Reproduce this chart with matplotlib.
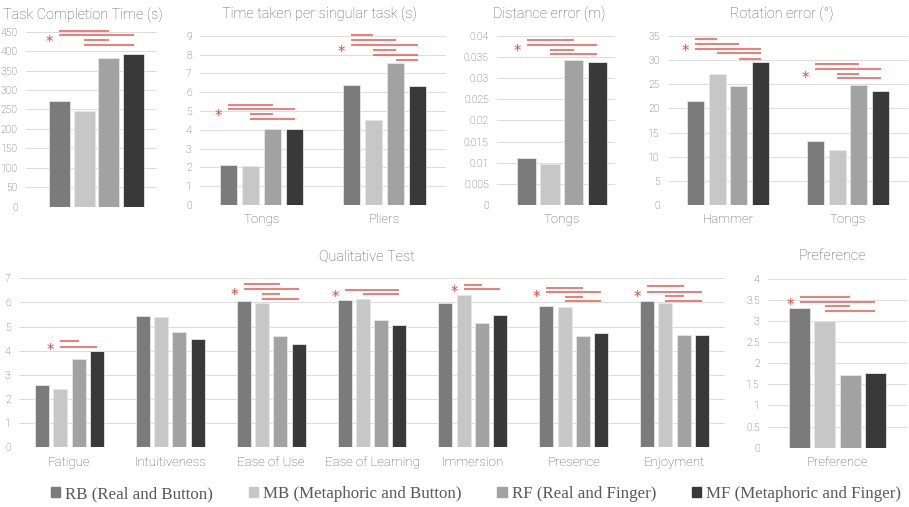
import numpy as np
import matplotlib.pyplot as plt

W, H = 909, 507

series = ['RB (Real and Button)', 'MB (Metaphoric and Button)',
          'RF (Real and Finger)', 'MF (Metaphoric and Finger)']
colors = ['#7b7b7b', '#c6c7c6', '#a2a2a2', '#393939']

# values per series (RB, MB, RF, MF), one entry per category
completion_cats = ['']
completion_vals = [[272], [247], [382], [393]]

singular_cats = ['Tongs', 'Pliers']
singular_vals = [[2.1, 6.4], [2.05, 4.5], [4.05, 7.55], [4.05, 6.35]]

distance_cats = ['Tongs']
distance_vals = [[0.0111], [0.0098], [0.0342], [0.0338]]

rotation_cats = ['Hammer', 'Tongs']
rotation_vals = [[21.6, 13.3], [27.1, 11.4], [24.7, 24.9], [29.6, 23.6]]

qual_cats = ['Fatigue', 'Intuitiveness', 'Ease of Use', 'Ease of Learning',
             'Immersion', 'Presence', 'Enjoyment']
qual_vals = [[2.6, 5.43, 6.05, 6.12, 5.98, 5.87, 6.05],
             [2.43, 5.38, 5.98, 6.15, 6.3, 5.8, 5.99],
             [3.67, 4.77, 4.63, 5.28, 5.14, 4.62, 4.66],
             [3.97, 4.47, 4.27, 5.05, 5.49, 4.72, 4.66]]

pref_cats = ['Preference']
pref_vals = [[3.3], [3.0], [1.72], [1.76]]

# significance brackets per category: (bar i, bar j, level), and asterisk level
completion_sig = [([(0, 2, 451), (0, 3, 441), (1, 2, 428), (1, 3, 415)], 434)]
singular_sig = [([(0, 2, 5.32), (0, 3, 5.09), (1, 2, 4.82), (1, 3, 4.56)], 4.95),
                ([(0, 1, 9.04), (0, 2, 8.77), (0, 3, 8.5), (1, 2, 8.24),
                  (1, 3, 7.97), (2, 3, 7.69)], 8.35)]
distance_sig = [([(0, 2, 0.0389), (0, 3, 0.0378), (1, 2, 0.0366), (1, 3, 0.0356)], 0.0373)]
rotation_sig = [([(0, 1, 34.4), (0, 2, 33.4), (0, 3, 32.4), (1, 3, 31.4), (2, 3, 30.3)], 32.9),
                ([(0, 2, 29.3), (0, 3, 28.2), (1, 2, 27.2), (1, 3, 26.3)], 27.3)]
qual_sig = [([(1, 2, 4.39), (1, 3, 4.17)], 4.2),
            None,
            ([(0, 2, 6.75), (0, 3, 6.56), (1, 2, 6.35), (1, 3, 6.14)], 6.49),
            ([(0, 3, 6.52), (1, 3, 6.35)], 6.4),
            ([(1, 2, 6.74), (1, 3, 6.56)], 6.63),
            ([(0, 2, 6.61), (0, 3, 6.43), (1, 2, 6.24), (1, 3, 6.05)], 6.42),
            ([(0, 2, 6.67), (0, 3, 6.45), (1, 2, 6.26), (1, 3, 6.07)], 6.42)]
pref_sig = [([(0, 2, 3.57), (0, 3, 3.46), (1, 2, 3.35), (1, 3, 3.24)], 3.48)]

plt.rcParams['font.family'] = ['Roboto', 'DejaVu Sans']
plt.rcParams['font.weight'] = 'light'
txt = '#595959'
red = '#e8463c'

fig = plt.figure(figsize=(W / 100, H / 100), dpi=100)


def box(x0, x1, ytop, ybot):
    return [x0 / W, 1 - ybot / H, (x1 - x0) / W, (ybot - ytop) / H]


def panel(rect, cats, vals, sig, ymax, ystep, xlim, step, width):
    ax = fig.add_axes(rect)
    x = np.arange(len(cats))
    for k in range(4):
        ax.bar(x + (k - 1.5) * step, vals[k], width, color=colors[k],
               edgecolor='#e6e6e6', linewidth=0.6, zorder=2)
    ax.set_xlim(*xlim)
    ax.set_ylim(0, ymax)
    ticks = np.arange(0, ymax + ystep / 2, ystep)
    ax.set_yticks(ticks)
    ax.set_yticklabels(['{:g}'.format(round(t, 4)) for t in ticks])
    ax.set_xticks(x)
    ax.set_xticklabels(cats)
    ax.tick_params(axis='y', length=0, pad=6, labelsize=7.5, labelcolor=txt)
    ax.tick_params(axis='x', length=0, pad=6, labelsize=9.5, labelcolor=txt)
    for s in ax.spines.values():
        s.set_visible(False)
    ax.yaxis.grid(True, color='#dedede', linewidth=0.8, zorder=0)
    ax.set_axisbelow(True)
    for ci, item in enumerate(sig):
        if item is None:
            continue
        lines, star = item
        xs0 = None
        for i, j, lvl in lines:
            xa = ci + (i - 1.5) * step
            xb = ci + (j - 1.5) * step
            ax.plot([xa, xb], [lvl, lvl], color=red, lw=1.1, alpha=0.9,
                    clip_on=False, zorder=3, solid_capstyle='butt')
            xs0 = xa if xs0 is None else min(xs0, xa)
        ax.annotate('*', (xs0, star), xytext=(-7, -3.5), textcoords='offset points',
                    ha='center', va='center', color=red, fontsize=10.5,
                    family='DejaVu Sans', fontweight='normal',
                    annotation_clip=False)
    return ax


panel(box(26, 157, 31.7, 206.7), completion_cats, completion_vals, completion_sig,
      450, 50, (-0.538, 0.462), 0.19, 0.16)
panel(box(200, 446, 35.7, 205), singular_cats, singular_vals, singular_sig,
      9, 1, (-0.5, 1.5), 0.18, 0.142)
panel(box(497, 615, 35.7, 205), distance_cats, distance_vals, distance_sig,
      0.04, 0.005, (-0.55, 0.45), 0.2, 0.165)
panel(box(668, 908, 36, 205), rotation_cats, rotation_vals, rotation_sig,
      35, 5, (-0.5, 1.5), 0.182, 0.142)
panel(box(19, 725, 278.3, 447.3), qual_cats, qual_vals, qual_sig,
      7, 1, (-0.5, 6.5), 0.181, 0.139)
panel(box(768, 907, 278.7, 447.7), pref_cats, pref_vals, pref_sig,
      4, 0.5, (-0.5, 0.5), 0.182, 0.151)

titles = [('Task Completion Time (s)', 83, 15), ('Time taken per singular task (s)', 319, 14),
          ('Distance error (m)', 549, 14), ('Rotation error (°)', 782, 14),
          ('Qualitative Test', 367, 256), ('Preference', 832, 256)]
for t, cx, cy in titles:
    fig.text(cx / W, 1 - cy / H, t, ha='center', va='center', fontsize=10.4, color=txt)

handles = [plt.Rectangle((0, 0), 1, 1, color=c) for c in colors]
fig.legend(handles, series, loc='center', bbox_to_anchor=(476 / W, 1 - 494 / H), ncol=4,
           frameon=False, handlelength=0.55, handleheight=0.55, handletextpad=0.3,
           columnspacing=2.1,
           prop={'family': ['Liberation Serif', 'DejaVu Serif'], 'size': 12.2},
           labelcolor=txt)

fig.savefig('out.png', dpi=100)
